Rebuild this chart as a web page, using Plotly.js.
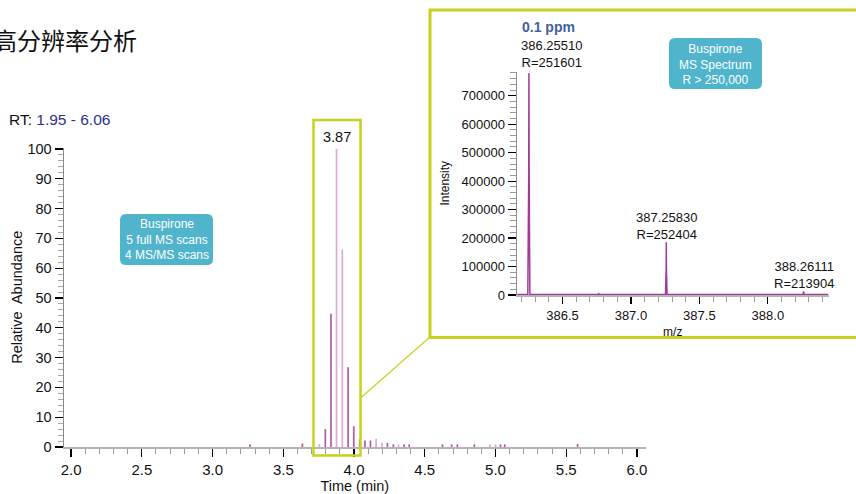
<!DOCTYPE html>
<html><head><meta charset="utf-8">
<script src="https://cdn.plot.ly/plotly-3.0.1.min.js"></script>
<style>html,body{margin:0;padding:0;background:#fff}#chart{width:856px;height:494px}</style>
</head><body><div id="chart"></div>
<script>
// ---------- data ----------
const scanTimes = [3.265, 3.635, 3.755, 3.797, 3.837, 3.876, 3.917, 3.958, 3.998, 4.040, 4.077, 4.116, 4.156, 4.198, 4.236, 4.278, 4.314, 4.354, 4.390, 4.625, 4.690, 4.730, 4.850, 4.960, 5.000, 5.035, 5.065, 5.580];
const scanAbund = [0.9, 1.2, 1.0, 6.0, 44.7, 100, 66.3, 26.8, 7.0, 2.6, 2.2, 2.2, 2.8, 1.4, 1.4, 0.9, 0.9, 0.9, 0.9, 0.9, 0.9, 0.9, 0.9, 0.9, 0.9, 0.9, 0.9, 1.0];
const scanType  = ['M','M','F','M','M','F','F','M','M','M','M','M','F','F','M','M','F','M','M','M','M','M','M','F','F','M','M','M'];
const peakLabel = '3.87';
const rtRange = ['1.95', '6.06'];

const mzValues    = [386.170, 386.200, 386.247, 386.2535, 386.2551, 386.2567, 386.262, 386.300, 386.500, 386.760, 386.765, 386.770, 387.000, 387.110, 387.200, 387.2525, 387.2575, 387.2583, 387.2591, 387.264, 387.500, 387.800, 388.000, 388.255, 388.2600, 388.2611, 388.2622, 388.267, 388.440];
const mzIntensity = [1500, 1500, 1500, 420000, 780000, 420000, 1500, 1500, 1500, 1500, 4500, 1500, 1500, 2500, 2500, 1500, 95000, 185000, 95000, 1500, 1500, 1500, 1500, 1500, 7000, 13000, 7000, 1500, 1500];
const peakMz  = [386.25510, 387.25830, 388.26111];
const peakRes = [251601, 252404, 213904];

// ---------- helpers (pixel -> paper) ----------
const W = 856, H = 494;
const X = v => v / W, Y = v => 1 - v / H;
function roundRect(x0, y0, x1, y1, r) {
  return `M${X(x0+r)},${Y(y0)} L${X(x1-r)},${Y(y0)} Q${X(x1)},${Y(y0)} ${X(x1)},${Y(y0+r)} ` +
         `L${X(x1)},${Y(y1-r)} Q${X(x1)},${Y(y1)} ${X(x1-r)},${Y(y1)} L${X(x0+r)},${Y(y1)} ` +
         `Q${X(x0)},${Y(y1)} ${X(x0)},${Y(y1-r)} L${X(x0)},${Y(y0+r)} Q${X(x0)},${Y(y0)} ${X(x0+r)},${Y(y0)} Z`;
}

const FONT = 'Liberation Sans, Arial, Helvetica, sans-serif';
const DARK = '#b15ba5', LIGHT = '#dcaad6', BOXC = '#c8d21e', TEAL = '#50b4cd';

const traces = [
  {
    type: 'bar', x: scanTimes, y: scanAbund, width: 0.012,
    marker: { color: scanType.map(t => t === 'F' ? LIGHT : DARK), line: { width: 0 } },
    xaxis: 'x', yaxis: 'y', hoverinfo: 'x+y'
  },
  {
    type: 'scatter', mode: 'lines', x: mzValues, y: mzIntensity,
    line: { color: '#a3399a', width: 1.5 }, xaxis: 'x2', yaxis: 'y2', hoverinfo: 'x+y'
  }
];

const axisCommon = {
  showgrid: false, zeroline: false, showline: true,
  ticks: 'outside', tickcolor: '#000', tickwidth: 1.2,
  tickfont: { family: FONT, color: '#111' }
};

const annotations = [
  { xref: 'paper', yref: 'paper', x: X(-9), y: Y(40), xanchor: 'left', yanchor: 'middle', showarrow: false,
    text: '高分辨率分析', font: { family: 'Noto Sans CJK SC, sans-serif', size: 24, color: '#111' } },
  { xref: 'paper', yref: 'paper', x: X(7), y: Y(119), xanchor: 'left', yanchor: 'middle', showarrow: false,
    text: `RT: <span style="color:#2e3192">${rtRange[0]} - ${rtRange[1]}</span>`, font: { family: FONT, size: 15.5, color: '#111' } },
  { xref: 'x', yref: 'paper', x: scanTimes[scanAbund.indexOf(Math.max(...scanAbund))], y: Y(137), xanchor: 'center', yanchor: 'middle', showarrow: false,
    text: peakLabel, font: { family: FONT, size: 14.5, color: '#111' } },
  { xref: 'paper', yref: 'paper', x: X(166.5), y: Y(240), xanchor: 'center', yanchor: 'middle', showarrow: false,
    text: 'Buspirone<br>5 full MS scans<br>4 MS/MS scans', font: { family: FONT, size: 12, color: '#fff' } },
  { xref: 'paper', yref: 'paper', x: X(715.5), y: Y(64), xanchor: 'center', yanchor: 'middle', showarrow: false,
    text: 'Buspirone<br>MS Spectrum<br>R &gt; 250,000', font: { family: FONT, size: 12, color: '#fff' } },
  { xref: 'paper', yref: 'paper', x: X(548), y: Y(27), xanchor: 'center', yanchor: 'middle', showarrow: false,
    text: '<b>0.1 ppm</b>', font: { family: FONT, size: 14, color: '#3f5f9f' } }
];
const labelY = [54, 226, 275];
const labelShift = [23, 0, 0];
peakMz.forEach((m, i) => {
  annotations.push({ xref: 'x2', yref: 'paper', x: m, y: Y(labelY[i]), xshift: labelShift[i],
    xanchor: 'center', yanchor: 'middle', showarrow: false,
    text: `${m.toFixed(5)}<br>R=${peakRes[i]}`, font: { family: FONT, size: 13, color: '#111' } });
});

const shapes = [
  { type: 'path', xref: 'paper', yref: 'paper', path: roundRect(120, 214, 213, 265, 6), fillcolor: TEAL, line: { width: 0 }, layer: 'below' },
  { type: 'path', xref: 'paper', yref: 'paper', path: roundRect(669, 38, 762, 89, 6), fillcolor: TEAL, line: { width: 0 }, layer: 'below' },
  { type: 'rect', xref: 'paper', yref: 'paper', x0: X(313.5), x1: X(360.5), y0: Y(455.5), y1: Y(120), line: { color: BOXC, width: 2.5 }, layer: 'above' },
  { type: 'line', xref: 'paper', yref: 'paper', x0: X(360.5), y0: Y(398), x1: X(430), y1: Y(337), line: { color: BOXC, width: 1.2 }, layer: 'above' },
  { type: 'rect', xref: 'paper', yref: 'paper', x0: X(430), x1: X(870), y0: Y(337.5), y1: Y(10), line: { color: BOXC, width: 3 }, layer: 'above' }
];

const layout = {
  width: W, height: H, margin: { l: 0, r: 0, t: 0, b: 0 },
  paper_bgcolor: '#fff', plot_bgcolor: 'rgba(0,0,0,0)', showlegend: false,
  font: { family: FONT, color: '#111' },
  xaxis: Object.assign({}, axisCommon, {
    domain: [X(64), X(645.5)], range: [1.95, 6.06], anchor: 'y',
    dtick: 0.5, tick0: 2, tickformat: '.1f', ticklen: 8,
    linecolor: '#b4b4b4', linewidth: 2, tickfont: { family: FONT, size: 15, color: '#111' },
    minor: { dtick: 0.1, ticks: 'outside', ticklen: 5, tickcolor: '#999', tickwidth: 1, showgrid: false },
    title: { text: 'Time (min)', font: { family: FONT, size: 14.5, color: '#111' }, standoff: 8 }
  }),
  yaxis: Object.assign({}, axisCommon, {
    domain: [Y(447), Y(147.5)], range: [0, 100.5], anchor: 'x',
    dtick: 10, tick0: 0, ticklen: 8,
    linecolor: '#8c8c8c', linewidth: 1.5, tickfont: { family: FONT, size: 14.5, color: '#111' },
    minor: { dtick: 2, ticks: 'outside', ticklen: 5, tickcolor: '#aaa', tickwidth: 1, showgrid: false },
    title: { text: 'Relative  Abundance', font: { family: FONT, size: 14.5, color: '#111' }, standoff: 1 }
  }),
  xaxis2: Object.assign({}, axisCommon, {
    domain: [X(517), X(828.5)], range: [386.168, 388.443], anchor: 'y2',
    dtick: 0.5, tick0: 386.5, tickformat: '.1f', ticklen: 7,
    linecolor: '#b4b4b4', linewidth: 2, tickfont: { family: FONT, size: 13, color: '#111' },
    minor: { dtick: 0.1, ticks: 'outside', ticklen: 5, tickcolor: '#999', tickwidth: 1, showgrid: false },
    title: { text: 'm/z', font: { family: FONT, size: 12, color: '#111' }, standoff: 6 }
  }),
  yaxis2: Object.assign({}, axisCommon, {
    domain: [Y(295), Y(71.5)], range: [0, 785000], anchor: 'x2',
    dtick: 100000, tick0: 0, tickformat: 'd', ticklen: 8,
    linecolor: '#8c8c8c', linewidth: 1.5, tickfont: { family: FONT, size: 13, color: '#111' },
    minor: { dtick: 20000, ticks: 'outside', ticklen: 6, tickcolor: '#999', tickwidth: 1, showgrid: false },
    title: { text: 'Intensity', font: { family: FONT, size: 12, color: '#111' }, standoff: 9 }
  }),
  annotations: annotations,
  shapes: shapes
};

Plotly.newPlot('chart', traces, layout, { displayModeBar: false, staticPlot: true });
</script>
</body></html>
